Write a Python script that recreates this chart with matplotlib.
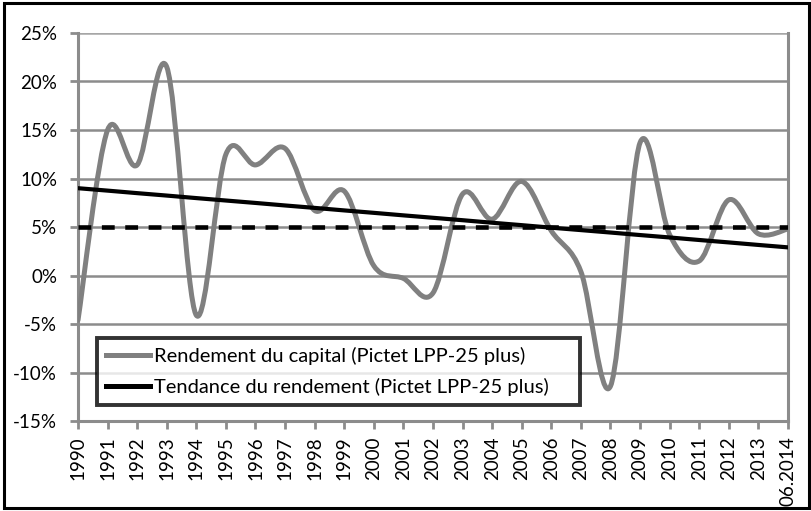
import numpy as np
import matplotlib
matplotlib.use("Agg")
import matplotlib.pyplot as plt
from matplotlib.path import Path
from matplotlib.patches import PathPatch, Rectangle
from matplotlib.lines import Line2D
from matplotlib.ticker import FuncFormatter

plt.rcParams["font.family"] = ["Lato", "DejaVu Sans"]

# data (in %)
years = [str(y) for y in range(1990, 2014)] + ["06.2014"]
rendement = [-4.6, 15.0, 11.4, 21.5, -4.1, 12.5, 11.4, 13.1, 6.7, 8.7, 1.0, -0.3,
             -1.8, 8.4, 5.8, 9.7, 4.6, 0.4, -11.4, 13.7, 4.2, 1.5, 7.8, 4.3, 4.8]
tendance = [9.0, 8.75, 8.49, 8.24, 7.98, 7.73, 7.48, 7.22, 6.97, 6.71, 6.46, 6.2,
            5.95, 5.7, 5.44, 5.19, 4.93, 4.68, 4.43, 4.17, 3.92, 3.66, 3.41, 3.15, 2.9]
objectif = [5.0] * len(years)

label_rend = "Rendement du capital (Pictet LPP-25 plus)"
label_tend = "Tendance du rendement (Pictet LPP-25 plus)"

GRAY = "#808080"


def smooth_path(x, y):
    """Excel-like smoothed line: cubic bezier through every point."""
    x = np.asarray(x, float)
    y = np.asarray(y, float)
    px = np.concatenate([[x[0]], x, [x[-1]]])
    py = np.concatenate([[y[0]], y, [y[-1]]])
    verts = [(x[0], y[0])]
    codes = [Path.MOVETO]
    for i in range(1, len(x)):
        p0, p1, p2, p3 = i - 1, i, i + 1, i + 2
        c1 = (px[p1] + (px[p2] - px[p0]) / 6, py[p1] + (py[p2] - py[p0]) / 6)
        c2 = (px[p2] - (px[p3] - px[p1]) / 6, py[p2] - (py[p3] - py[p1]) / 6)
        verts += [c1, c2, (px[p2], py[p2])]
        codes += [Path.CURVE4] * 3
    return Path(verts, codes)


fig = plt.figure(figsize=(8.12, 5.11), dpi=100)
W, H = 812, 511
ax = fig.add_axes([78 / W, (H - 421) / H, 710 / W, 388 / H])

x = np.arange(len(years))

# gridlines
for v in range(-15, 26, 5):
    ax.axhline(v, color="#8c8c8c" if v < 25 else "#a6a6a6", lw=1.8, zorder=1)

patch = PathPatch(smooth_path(x, rendement), facecolor="none", edgecolor=GRAY,
                  lw=3.6, capstyle="round", joinstyle="round", zorder=3)
ax.add_patch(patch)
ax.plot(x, tendance, color="black", lw=3.0, zorder=4)
ax.plot(x, objectif, color="black", lw=3.3, dashes=(2.8, 2.3), zorder=5)

ax.set_xlim(0, len(years) - 1)
ax.set_ylim(-15, 25)
ax.set_yticks(range(-15, 26, 5))
ax.yaxis.set_major_formatter(FuncFormatter(lambda v, p: f"{v:.0f}%"))
ax.set_xticks(x)
ax.set_xticklabels(years, rotation=90)

ax.spines["top"].set_visible(False)
for side in ["left", "right", "bottom"]:
    ax.spines[side].set_color("#8c8c8c")
    ax.spines[side].set_linewidth(2.2)
ax.spines["left"].set_zorder(2)

ax.tick_params(axis="y", length=6, width=2, color="#8c8c8c", pad=9,
               labelsize=13.5, labelcolor="black")
ax.tick_params(axis="x", length=6, width=2, color="#8c8c8c", pad=5,
               labelsize=13.5, labelcolor="black")

handles = [Line2D([], [], color=GRAY, lw=3.6),
           Line2D([], [], color="black", lw=3.6)]
leg = ax.legend(handles, [label_rend, label_tend], loc="lower left",
                bbox_to_anchor=((97 - 78) / 710, (421 - 405) / 388, (580 - 97) / 710, 0.1),
                mode="expand", fontsize=14.5, frameon=True, fancybox=False,
                handlelength=2.2, handletextpad=0.2, labelspacing=0.65,
                borderpad=0.45, borderaxespad=0)
leg.get_frame().set_edgecolor("black")
leg.get_frame().set_linewidth(2.8)
leg.set_zorder(6)

# outer chart border
fig.patches.append(Rectangle((4 / W, 3 / H), 805 / W, 505 / H, transform=fig.transFigure,
                             fill=False, edgecolor="black", lw=2.2))

fig.savefig("out.png", dpi=100)
